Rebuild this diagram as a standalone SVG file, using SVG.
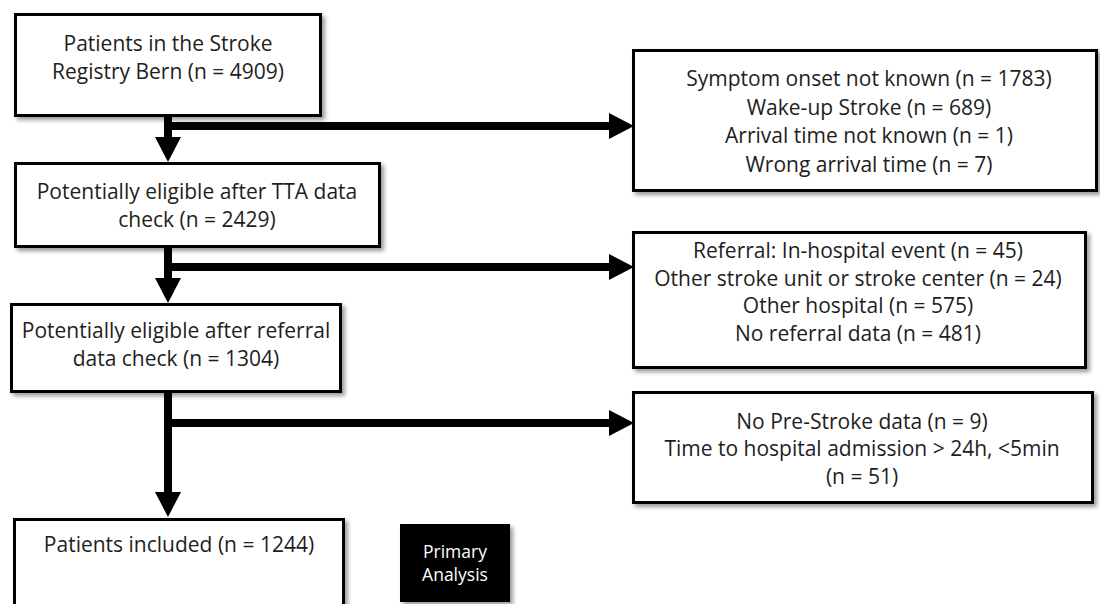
<svg xmlns="http://www.w3.org/2000/svg" width="1100" height="604" viewBox="0 0 1100 604">
<defs>
<style>
.box{fill:#fff;stroke:#000;stroke-width:3;filter:url(#sh)}
.dark{fill:#000;stroke:none;filter:url(#sh)}
.t{font-family:"Open Sans","Liberation Sans",sans-serif;font-size:21px;fill:#1e1e1e;text-anchor:middle}
.w{font-family:"Open Sans","Liberation Sans",sans-serif;font-size:17.5px;fill:#fff;text-anchor:middle}
.c{fill:none;stroke:#000;stroke-width:8}
</style>
<filter id="sh" x="-5%" y="-5%" width="115%" height="120%">
<feDropShadow dx="3" dy="3" stdDeviation="2" flood-color="#000" flood-opacity="0.4"/>
</filter>
<marker id="ad" markerUnits="userSpaceOnUse" markerWidth="26" markerHeight="26" refX="0" refY="13" orient="auto" viewBox="0 0 25 26">
<path d="M0,0 L25,13 L0,26 Z" fill="#000"/>
</marker>
</defs>
<rect width="1100" height="604" fill="#fff"/>

<g id="connectors">
<path class="c" d="M168,117 V137" marker-end="url(#ad)"/>
<path class="c" d="M164,126 H609" marker-end="url(#ad)"/>
<path class="c" d="M168,247 V278" marker-end="url(#ad)"/>
<path class="c" d="M164,267 H609" marker-end="url(#ad)"/>
<path class="c" d="M168,393 V492" marker-end="url(#ad)"/>
<path class="c" d="M164,423 H609" marker-end="url(#ad)"/>
</g>

<g id="n1">
<rect class="box" x="15.5" y="14.5" width="305" height="101"/>
<text class="t" x="168" y="51">Patients in the Stroke</text>
<text class="t" x="168" y="79">Registry Bern (n = 4909)</text>
</g>

<g id="n2">
<rect class="box" x="15.5" y="163.5" width="364" height="83"/>
<text class="t" x="197" y="199">Potentially eligible after TTA data</text>
<text class="t" x="197" y="227">check (n = 2429)</text>
</g>

<g id="n3">
<rect class="box" x="11.5" y="304.5" width="329" height="87"/>
<text class="t" x="176" y="338">Potentially eligible after referral</text>
<text class="t" x="176" y="366">data check (n = 1304)</text>
</g>

<g id="n4">
<rect class="box" x="14.5" y="519.5" width="329" height="110"/>
<text class="t" x="179" y="552">Patients included (n = 1244)</text>
</g>

<g id="n5">
<rect class="dark" x="400" y="524" width="110" height="78"/>
<text class="w" x="455" y="558">Primary</text>
<text class="w" x="455" y="581">Analysis</text>
</g>

<g id="r1">
<rect class="box" x="633.5" y="50.5" width="463" height="140"/>
<text class="t" x="869" y="86">Symptom onset not known (n = 1783)</text>
<text class="t" x="869" y="115">Wake-up Stroke (n = 689)</text>
<text class="t" x="869" y="143">Arrival time not known (n = 1)</text>
<text class="t" x="869" y="172">Wrong arrival time (n = 7)</text>
</g>

<g id="r2">
<rect class="box" x="633.5" y="232.5" width="452" height="135"/>
<text class="t" x="858" y="258">Referral: In-hospital event (n = 45)</text>
<text class="t" x="858" y="286">Other stroke unit or stroke center (n = 24)</text>
<text class="t" x="858" y="313">Other hospital (n = 575)</text>
<text class="t" x="858" y="341">No referral data (n = 481)</text>
</g>

<g id="r3">
<rect class="box" x="633.5" y="392.5" width="459" height="110"/>
<text class="t" x="862" y="429">No Pre-Stroke data (n = 9)</text>
<text class="t" x="862" y="456">Time to hospital admission &gt; 24h, &lt;5min</text>
<text class="t" x="862" y="484">(n = 51)</text>
</g>
</svg>
